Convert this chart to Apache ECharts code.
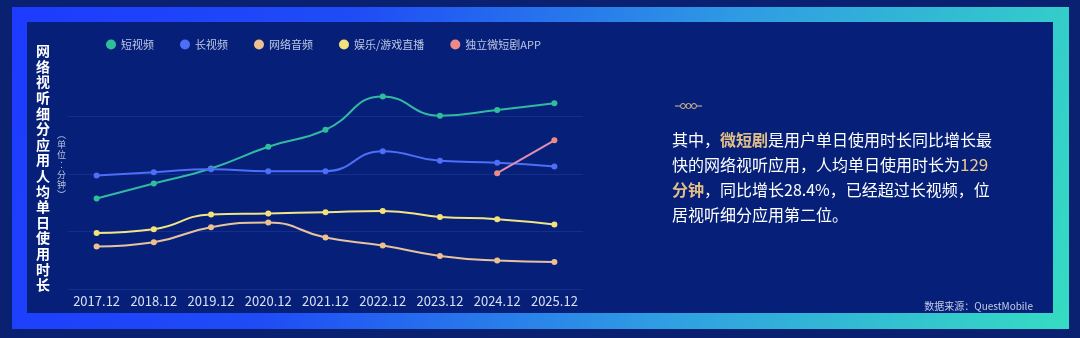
<!DOCTYPE html>
<html>
<head>
<meta charset="utf-8">
<script src="https://cdn.jsdelivr.net/npm/echarts@6/dist/echarts.min.js"></script>
<style>
html,body{margin:0;padding:0;background:#0a2172;}
#main{width:1080px;height:338px;}
</style>
</head>
<body>
<div id="main"></div>
<script>
const categories = ['2017.12','2018.12','2019.12','2020.12','2021.12','2022.12','2023.12','2024.12','2025.12'];
const seriesNames = ['短视频','长视频','网络音频','娱乐/游戏直播','独立微短剧APP'];
const shortVideo = [78.6, 91.6, 104.6, 123.4, 138.1, 167, 150.3, 155.2, 161];
const longVideo = [98.6, 101.4, 104, 102.3, 102.3, 119.6, 111.2, 109.5, 106.4];
const netAudio = [37, 40.7, 53.8, 57.8, 44.8, 37.9, 28.9, 24.9, 23.7];
const liveStream = [48.8, 52, 64.8, 65.6, 66.8, 67.9, 62.7, 60.7, 56.1];
const microDrama = [null, null, null, null, null, null, null, 100.5, 129];
const yTitle = '网络视听细分应用人均单日使用时长';
const yUnit = '︵单位︰分钟︶';
const source = '数据来源：QuestMobile';

const colors = ['#2ebf9a', '#4d6ef7', '#efc08e', '#f3e27a', '#ee8a86'];
const lineColors = ['#31b9a2', '#4d6ef7', '#e6c39e', '#f1e584', '#dd8fb2'];
const seriesData = [shortVideo, longVideo, netAudio, liveStream, microDrama];

const chart = echarts.init(document.getElementById('main'), null, {renderer: 'canvas'});
const font = '"Noto Sans CJK SC", "Noto Sans", sans-serif';
const gridColor = 'rgba(120,150,230,0.13)';

const option = {
  backgroundColor: '#0a2172',
  color: colors,
  textStyle: {fontFamily: font},
  grid: {left: 68, right: 497, top: 58.3, bottom: 48.7, containLabel: false},
  legend: {
    left: 101, top: 34,
    icon: 'circle', itemWidth: 10, itemHeight: 10, itemGap: 26,
    textStyle: {color: '#bcc6e2', fontSize: 11, fontFamily: font},
    data: seriesNames
  },
  xAxis: {
    type: 'category', data: categories, boundaryGap: true,
    axisLine: {show: false}, axisTick: {show: false},
    axisLabel: {color: '#d8e0f5', fontSize: 13, margin: 5, interval: 0, hideOverlap: false, fontFamily: font}
  },
  yAxis: {
    type: 'value', min: 0, max: 200, interval: 50,
    axisLine: {show: false}, axisTick: {show: false}, axisLabel: {show: false},
    splitLine: {show: true, lineStyle: {color: [gridColor, gridColor, gridColor, gridColor, 'rgba(0,0,0,0)'], width: 1}}
  },
  series: seriesNames.map((n, i) => ({
    name: n, type: 'line', data: seriesData[i],
    smooth: i === 4 ? false : true,
    symbol: 'circle', symbolSize: 6,
    lineStyle: {width: 2, color: lineColors[i]},
    itemStyle: {color: colors[i]},
    z: 3
  })),
  graphic: [
    {type: 'rect', z: -20, shape: {x: 12, y: 7, width: 1057, height: 322},
      style: {fill: new echarts.graphic.LinearGradient(0, 0, 1, 1, [
        {offset: 0, color: '#1d3bff'},
        {offset: 0.3, color: '#1f4cf6'},
        {offset: 0.65, color: '#2f9fe2'},
        {offset: 1, color: '#35dcc2'}
      ])}},
    {type: 'rect', z: -19, shape: {x: 27, y: 22, width: 1026, height: 291}, style: {fill: '#06207a'}},
    {type: 'text', left: 36, top: 43, z: 5,
      style: {text: yTitle.split('').join('\n'), fill: '#ffffff', font: 'bold 14px ' + font, lineHeight: 15.6, align: 'center'}},
    {type: 'text', left: 57, top: 130, z: 5,
      style: {text: yUnit.split('').join('\n'), fill: '#b4c0dc', font: '9px ' + font, lineHeight: 10, align: 'center'}},
    {type: 'line', z: 5, shape: {x1: 675, y1: 106, x2: 680, y2: 106}, style: {stroke: '#d9bd8a', lineWidth: 1}},
    {type: 'circle', z: 5, shape: {cx: 683, cy: 106, r: 2.5}, style: {stroke: '#d9bd8a', fill: 'none', lineWidth: 1}},
    {type: 'circle', z: 5, shape: {cx: 688.5, cy: 106, r: 2.5}, style: {stroke: '#d9bd8a', fill: 'none', lineWidth: 1}},
    {type: 'circle', z: 5, shape: {cx: 694, cy: 106, r: 2.5}, style: {stroke: '#d9bd8a', fill: 'none', lineWidth: 1}},
    {type: 'line', z: 5, shape: {x1: 697, y1: 106, x2: 702, y2: 106}, style: {stroke: '#d9bd8a', lineWidth: 1}},
    {type: 'text', left: 672, top: 127, z: 5,
      style: {
        text: '{w|其中，}{g|微短剧}{w|是用户单日使用时长同比增长最}\n{w|快的网络视听应用，人均单日使用时长为}{n|129}\n{g|分钟}{w|，同比增长28.4%，已经超过长视频，位}\n{w|居视听细分应用第二位。}',
        font: '16px ' + font, fill: '#ffffff', lineHeight: 25,
        rich: {
          w: {fill: '#ffffff', fontSize: 16, fontFamily: font, lineHeight: 25},
          g: {fill: '#e2bf86', fontSize: 16, fontFamily: font, fontWeight: 'bold', lineHeight: 25},
          n: {fill: '#e8c890', fontSize: 17, fontFamily: font, lineHeight: 25}
        }
      }},
    {type: 'text', right: 1080 - 1033, top: 301, z: 5,
      style: {text: source, fill: '#c4cce4', font: '10px ' + font}}
  ]
};
chart.setOption(option);
</script>
</body>
</html>
